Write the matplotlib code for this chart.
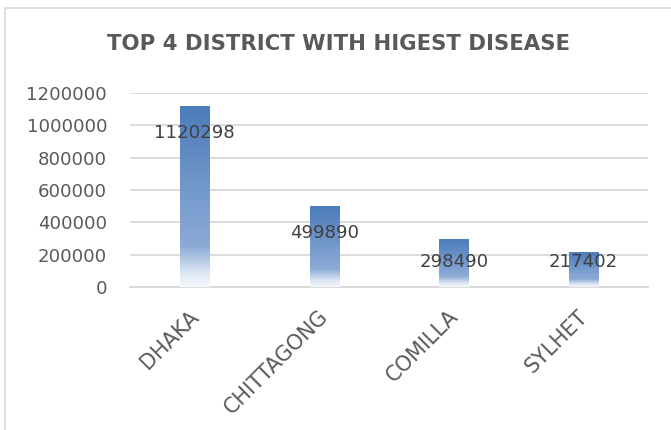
import numpy as np
import matplotlib.pyplot as plt
from matplotlib.colors import LinearSegmentedColormap
from matplotlib.patches import Rectangle
import matplotlib.transforms as mtransforms

# ---- DATA ----
districts = ['DHAKA', 'CHITTAGONG', 'COMILLA', 'SYLHET']
cases     = [1120298, 499890, 298490, 217402]
y_ticks   = [0, 200000, 400000, 600000, 800000, 1000000, 1200000]
title     = 'TOP 4 DISTRICT WITH HIGEST DISEASE'

FONT = 'DejaVu Sans'
TXT  = '#595959'
GRID = '#d9d9d9'
FS   = 13.1

plt.rcParams['font.family'] = FONT

fig = plt.figure(figsize=(6.71, 4.30), dpi=100)
W, H = 671, 430
ax = fig.add_axes([130 / W, 1 - 287 / H, (648 - 130) / W, (287 - 93) / H])

# chart frame (Excel style)
fig.patches.append(Rectangle((5 / W, -0.1), 1.2, 1 - 8 / H + 0.1, transform=fig.transFigure,
                             fill=False, edgecolor='#d9d9d9', linewidth=1.2))

x = np.arange(len(districts))
bars = ax.bar(x, cases, width=0.225, color='none', zorder=3)

# gradient: white at bottom -> blue at top
grad = LinearSegmentedColormap.from_list('excel_grad', [
    (0.00, '#f4f7fc'),
    (0.08, '#dce6f3'),
    (0.22, '#8daad6'),
    (0.45, '#7a9ecf'),
    (0.75, '#6189c2'),
    (1.00, '#4a7dbb'),
])
g = np.linspace(0, 1, 256).reshape(-1, 1)
for b in bars:
    x0, w, h = b.get_x(), b.get_width(), b.get_height()
    im = ax.imshow(g, cmap=grad, origin='lower', aspect='auto',
                   extent=(x0, x0 + w, 0, h), zorder=3)
    im.set_clip_path(b)

# data labels, inside end, kept above the axis
for xi, v in zip(x, cases):
    ypos = max(v - 167000, 155000)
    ax.text(xi, ypos, f'{v}', ha='center', va='center', fontsize=FS,
            color='#404040', zorder=4)

ax.set_xlim(-0.5, len(districts) - 0.5)
ax.set_ylim(0, 1200000)
ax.set_yticks(y_ticks)
ax.set_yticklabels([str(t) for t in y_ticks])
ax.set_xticks(x)
ax.set_xticklabels(districts)
ax.yaxis.grid(True, color=GRID, linewidth=1.3, zorder=0)
ax.set_axisbelow(True)
for s in ['top', 'right', 'left']:
    ax.spines[s].set_visible(False)
ax.spines['bottom'].set_color(GRID)
ax.spines['bottom'].set_linewidth(1.3)
ax.tick_params(axis='both', length=0, colors=TXT, labelsize=FS)
ax.tick_params(axis='y', pad=16.5)
ax.tick_params(axis='x', pad=19, labelsize=15)

offset = mtransforms.ScaledTranslation(1 / 100, 0, fig.dpi_scale_trans)
for lab in ax.get_xticklabels():
    lab.set_rotation(45)
    lab.set_rotation_mode('anchor')
    lab.set_ha('right')
    lab.set_va('center')
    lab.set_transform(lab.get_transform() + offset)

fig.text(338.5 / W, 1 - 44.5 / H, title, ha='center', va='center', fontsize=15.3,
         fontweight='bold', color=TXT)

fig.savefig('out.png', dpi=100)
